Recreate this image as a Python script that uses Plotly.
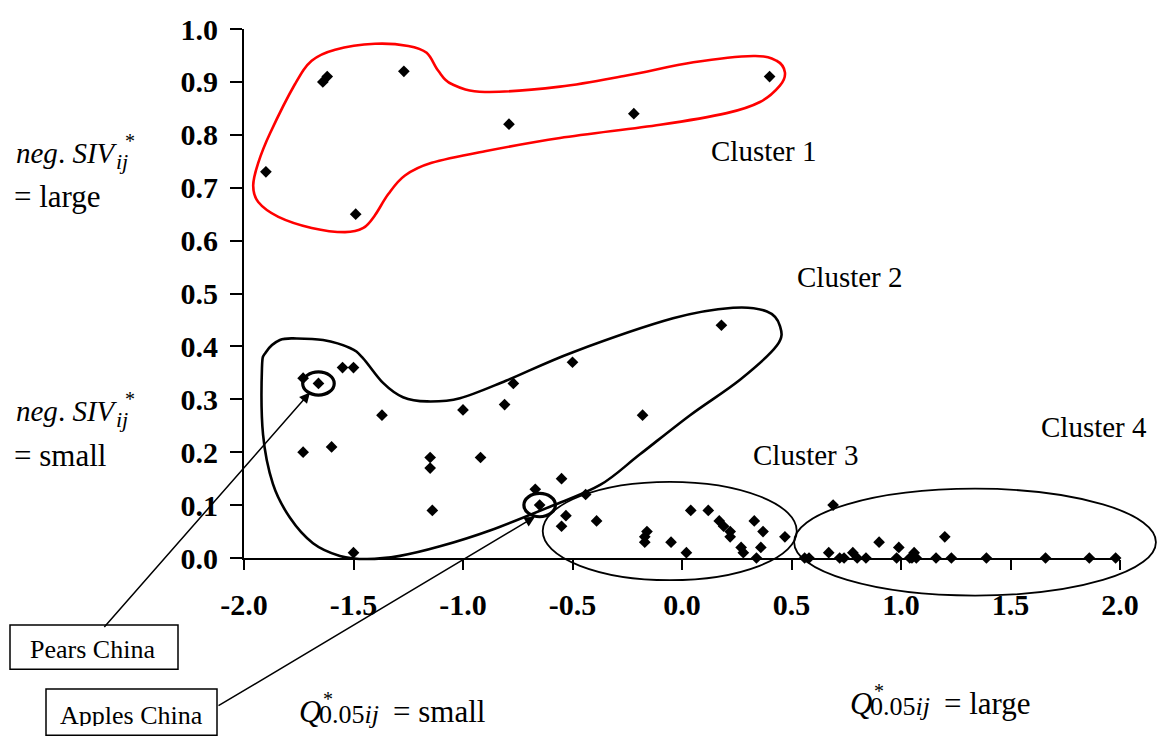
import plotly.graph_objects as go

# ---------------- data ----------------
c1_x = [-1.90, -1.64, -1.62, -1.27, -1.49, -0.79, -0.22, 0.40]
c1_y = [0.73, 0.90, 0.91, 0.92, 0.65, 0.82, 0.84, 0.91]

c2_x = [-1.73, -1.66, -1.55, -1.50, -1.37, -1.73, -1.60, -1.15, -1.15, -1.14, -0.92,
        -1.00, -0.81, -0.77, -0.50, 0.18, -0.18, -1.50, -0.67, -0.65, -0.55, -0.44]
c2_y = [0.34, 0.33, 0.36, 0.36, 0.27, 0.20, 0.21, 0.19, 0.17, 0.09, 0.19,
        0.28, 0.29, 0.33, 0.37, 0.44, 0.27, 0.01, 0.13, 0.10, 0.15, 0.12]

c3_x = [-0.53, -0.55, -0.39, -0.16, -0.17, -0.17, -0.05, 0.02, 0.04, 0.12, 0.17,
        0.19, 0.22, 0.22, 0.27, 0.28, 0.33, 0.37, 0.36, 0.34, 0.47]
c3_y = [0.08, 0.06, 0.07, 0.05, 0.04, 0.03, 0.03, 0.01, 0.09, 0.09, 0.07,
        0.06, 0.05, 0.04, 0.02, 0.01, 0.07, 0.05, 0.02, 0.00, 0.04]

c4_x = [0.56, 0.58, 0.69, 0.67, 0.72, 0.74, 0.78, 0.80, 0.84, 0.90, 0.98, 0.99,
        1.04, 1.05, 1.06, 1.07, 1.16, 1.20, 1.23, 1.39, 1.66, 1.86, 1.98]
c4_y = [0.00, 0.00, 0.10, 0.01, 0.00, 0.00, 0.01, 0.00, 0.00, 0.03, 0.00, 0.02,
        0.00, 0.00, 0.01, 0.00, 0.00, 0.04, 0.00, 0.00, 0.00, 0.00, 0.00]

pears_china = (-1.66, 0.33)
apples_china = (-0.65, 0.10)

x_ticks = [-2.0, -1.5, -1.0, -0.5, 0.0, 0.5, 1.0, 1.5, 2.0]
y_ticks = [0.0, 0.1, 0.2, 0.3, 0.4, 0.5, 0.6, 0.7, 0.8, 0.9, 1.0]

cluster_labels = ["Cluster 1", "Cluster 2", "Cluster 3", "Cluster 4"]

# cluster outlines (hand-drawn hulls, data units)
outline1 = [(-1.958, 0.704), (-1.935, 0.673), (-1.843, 0.645), (-1.691, 0.624), (-1.539, 0.616),
            (-1.455, 0.624), (-1.402, 0.648), (-1.341, 0.688), (-1.265, 0.723), (-1.143, 0.747),
            (-0.900, 0.769), (-0.557, 0.794), (-0.100, 0.819), (0.204, 0.841), (0.356, 0.862),
            (0.447, 0.893), (0.470, 0.918), (0.432, 0.940), (0.326, 0.949), (0.052, 0.937),
            (-0.253, 0.912), (-0.557, 0.891), (-0.900, 0.881), (-1.052, 0.896), (-1.113, 0.921),
            (-1.166, 0.955), (-1.250, 0.968), (-1.402, 0.972), (-1.584, 0.961), (-1.691, 0.940),
            (-1.767, 0.896), (-1.881, 0.803), (-1.935, 0.747)]
outline2 = [(-1.918, 0.359), (-1.900, 0.389), (-1.836, 0.412), (-1.758, 0.415), (-1.639, 0.412),
            (-1.516, 0.397), (-1.457, 0.378), (-1.365, 0.331), (-1.274, 0.304), (-1.164, 0.296),
            (-1.014, 0.302), (-0.804, 0.335), (-0.498, 0.389), (-0.041, 0.453), (0.233, 0.473),
            (0.388, 0.466), (0.447, 0.439), (0.434, 0.402), (0.265, 0.337), (0.037, 0.270),
            (-0.192, 0.196), (-0.374, 0.138), (-0.603, 0.097), (-0.877, 0.052), (-1.105, 0.022),
            (-1.288, 0.004), (-1.438, -0.002), (-1.562, 0.004), (-1.685, 0.028), (-1.790, 0.076),
            (-1.868, 0.140), (-1.913, 0.233)]
ellipse3 = dict(cx=-0.056, cy=0.051, rx=0.580, ry=0.093)
ellipse4 = dict(cx=1.338, cy=0.030, rx=0.826, ry=0.101)

# ---------------- geometry helpers ----------------
W, H = 1157, 740
ML, MR, MT, MB = 244, 37, 21, 182
XR = (-2.0, 2.0)
YR = (0.0, 1.0)


def dx(x):
    return (x - XR[0]) / (XR[1] - XR[0])


def dy(y):
    return (y - YR[0]) / (YR[1] - YR[0])


PW = W - ML - MR
PH = H - MT - MB


def px(p):
    return (p - ML) / PW


def py(p):
    return (H - MB - p) / PH


def smooth_path(pts):
    P = [(dx(a), dy(b)) for a, b in pts]
    n = len(P)
    s = "M %.5f,%.5f " % P[0]
    for i in range(n):
        p0 = P[i - 1]
        p1 = P[i]
        p2 = P[(i + 1) % n]
        p3 = P[(i + 2) % n]
        c1 = (p1[0] + (p2[0] - p0[0]) / 6, p1[1] + (p2[1] - p0[1]) / 6)
        c2 = (p2[0] - (p3[0] - p1[0]) / 6, p2[1] - (p3[1] - p1[1]) / 6)
        s += "C %.5f,%.5f %.5f,%.5f %.5f,%.5f " % (c1[0], c1[1], c2[0], c2[1], p2[0], p2[1])
    return s + "Z"


SERIF = "Liberation Serif"

fig = go.Figure()
all_x = c1_x + c2_x + c3_x + c4_x
all_y = c1_y + c2_y + c3_y + c4_y
fig.add_trace(go.Scatter(x=all_x, y=all_y, mode="markers", cliponaxis=False,
                         marker=dict(symbol="diamond", size=9, color="black"),
                         showlegend=False, hoverinfo="x+y"))

shapes = []
shapes.append(dict(type="path", xref="paper", yref="paper", path=smooth_path(outline1),
                   line=dict(color="#ff0000", width=2.6)))
shapes.append(dict(type="path", xref="paper", yref="paper", path=smooth_path(outline2),
                   line=dict(color="black", width=2.6)))
for e in (ellipse3, ellipse4):
    shapes.append(dict(type="circle", xref="paper", yref="paper",
                       x0=dx(e["cx"] - e["rx"]), x1=dx(e["cx"] + e["rx"]),
                       y0=dy(e["cy"] - e["ry"]), y1=dy(e["cy"] + e["ry"]),
                       line=dict(color="black", width=1.8)))
for (cx, cy) in (pears_china, apples_china):
    shapes.append(dict(type="circle", xref="paper", yref="paper",
                       x0=dx(cx - 0.072), x1=dx(cx + 0.072),
                       y0=dy(cy - 0.022), y1=dy(cy + 0.022),
                       line=dict(color="black", width=3.2)))
# label boxes
shapes.append(dict(type="rect", xref="paper", yref="paper",
                   x0=px(10), x1=px(178), y0=py(671), y1=py(626),
                   line=dict(color="black", width=1.5)))
shapes.append(dict(type="rect", xref="paper", yref="paper",
                   x0=px(46), x1=px(217), y0=py(738), y1=py(691),
                   line=dict(color="black", width=1.5)))

ann = []


def text_at(text, x, baseline, size, xanchor="left", height=None):
    center = baseline - 0.3375 * size
    a = dict(text=text, x=px(x), y=py(center), xref="paper", yref="paper",
             showarrow=False, xanchor=xanchor, yanchor="middle", borderpad=0,
             font=dict(family=SERIF, size=size, color="black"))
    ann.append(a)


def star(xc, yc, size=20):
    text_at("*", xc, yc + 0.5 * size, size, xanchor="center")


# cluster labels
for lab, (cx, base) in zip(cluster_labels, [(764, 155), (850, 283), (806, 463), (1094, 435)]):
    text_at(lab, cx, base, 29, xanchor="center")

# y-side meaning labels
for base, word in ((157, "= large"), (419, "= small")):
    text_at("<i>neg</i>. <i>SIV</i>", 15, base, 29)
    text_at("<i>ij</i>", 115, base + 6, 22)
    star(130, base - 26)
    text_at(word, 13, base + 45, 31)

# x-side meaning labels
for x0, base, word in ((298, 724, "= small"), (849, 716, "= large")):
    text_at("<i>Q</i>", x0, base, 31)
    text_at("0.05<i>ij</i>", x0 + 20, base + 2, 26)
    star(x0 + 30, base - 26)
    text_at(word, x0 + 94, base, 31)

# boxes text
text_at("Pears China", 92, 660, 26, xanchor="center")
text_at("Apples China", 131, 727, 26, xanchor="center")
# the reference clips the lower part of "Apples China" inside its box
ann.append(dict(text=" ", x=px(131), y=py(732.5), xref="paper", yref="paper",
                showarrow=False, xanchor="center", yanchor="middle", width=166, height=8,
                bgcolor="white", borderpad=0, borderwidth=0, font=dict(size=4)))

# arrows
for tip, tail in (((310, 390), (103, 626)), ((535, 516), (217, 706))):
    ann.append(dict(text="", x=px(tip[0]), y=py(tip[1]), xref="paper", yref="paper",
                    showarrow=True, axref="pixel", ayref="pixel",
                    ax=tail[0] - tip[0], ay=tail[1] - tip[1],
                    arrowhead=2, arrowsize=1.4, arrowwidth=1.5, arrowcolor="black",
                    standoff=0, startstandoff=0))

tickfont = dict(family=SERIF, size=30, color="black", weight="bold")
fig.update_layout(
    width=W, height=H, autosize=False,
    margin=dict(l=ML, r=MR, t=MT, b=MB, pad=0),
    paper_bgcolor="white", plot_bgcolor="white",
    shapes=shapes, annotations=ann, showlegend=False,
    xaxis=dict(range=list(XR), tickvals=x_ticks, ticktext=["%.1f" % v for v in x_ticks],
               showgrid=False, zeroline=False, showline=True, linecolor="black", linewidth=2,
               ticks="outside", ticklen=10, tickwidth=2, tickcolor="black",
               tickfont=tickfont, ticklabelstandoff=9, fixedrange=True),
    yaxis=dict(range=list(YR), tickvals=y_ticks, ticktext=["%.1f" % v for v in y_ticks],
               showgrid=False, zeroline=False, showline=True, linecolor="black", linewidth=2,
               ticks="outside", ticklen=12, tickwidth=2, tickcolor="black",
               tickfont=tickfont, ticklabelstandoff=6, fixedrange=True),
)

fig.write_html("out.html")
